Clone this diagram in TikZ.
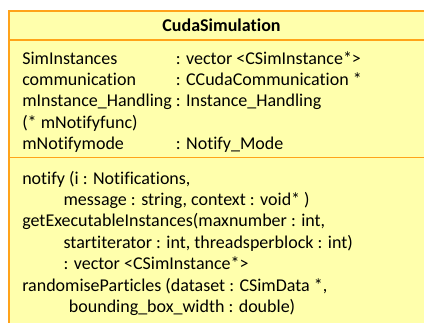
\documentclass[tikz,border=0pt]{standalone}
\usepackage{fontspec}
\setmainfont{Carlito}[Ligatures={NoCommon,NoContextual}]
\usepackage{xcolor}
\definecolor{umlorange}{RGB}{255,163,26}
\definecolor{umlyellow}{RGB}{255,255,172}
\newcommand{\umlfont}{\fontsize{13.5}{16.1}\selectfont}

\begin{document}
\begin{tikzpicture}[x=0.75pt,y=-0.75pt,
    umlbox/.style={draw=umlorange,fill=umlyellow,line width=1.6pt},
    umlline/.style={draw=umlorange,line width=1.1pt},
    umltext/.style={inner sep=0pt,anchor=base west,font=\umlfont}]
  \useasboundingbox (0,0) rectangle (424,322);
  \begin{scope}
    \clip (0,0) rectangle (424,322);
    \draw[umlbox] (9,11) rectangle (445,345);
    \draw[umlline] (9,40) -- (445,40);
    \draw[umlline] (9,157.5) -- (445,157.5);
  \end{scope}
  % class name
  \node[inner sep=0pt,anchor=base,font=\umlfont\bfseries] (classname) at (221.5,31) {CudaSimulation};
  % attributes
  \node[umltext] (attrs) at (22,64) {\begin{tabular}[t]{@{}l@{\ }l@{}}
    SimInstances & : vector <CSimInstance*> \\
    communication & : CCudaCommunication * \\
    mInstance\_Handling & : Instance\_Handling \\
    (* mNotifyfunc) & \\
    mNotifymode & : Notify\_Mode
  \end{tabular}};
  % operations
  \node[umltext] (ops) at (22,184) {\begin{tabular}[t]{@{}l@{}}
    notify (i : Notifications,\\
    \hspace*{31pt}message : string, context : void* )\\
    getExecutableInstances(maxnumber : int,\\
    \hspace*{31pt}startiterator : int, threadsperblock : int)\\
    \hspace*{31pt}: vector <CSimInstance*>\\
    randomiseParticles (dataset : CSimData *,\\
    \hspace*{35pt}bounding\_box\_width : double)
  \end{tabular}};
\end{tikzpicture}
\end{document}
